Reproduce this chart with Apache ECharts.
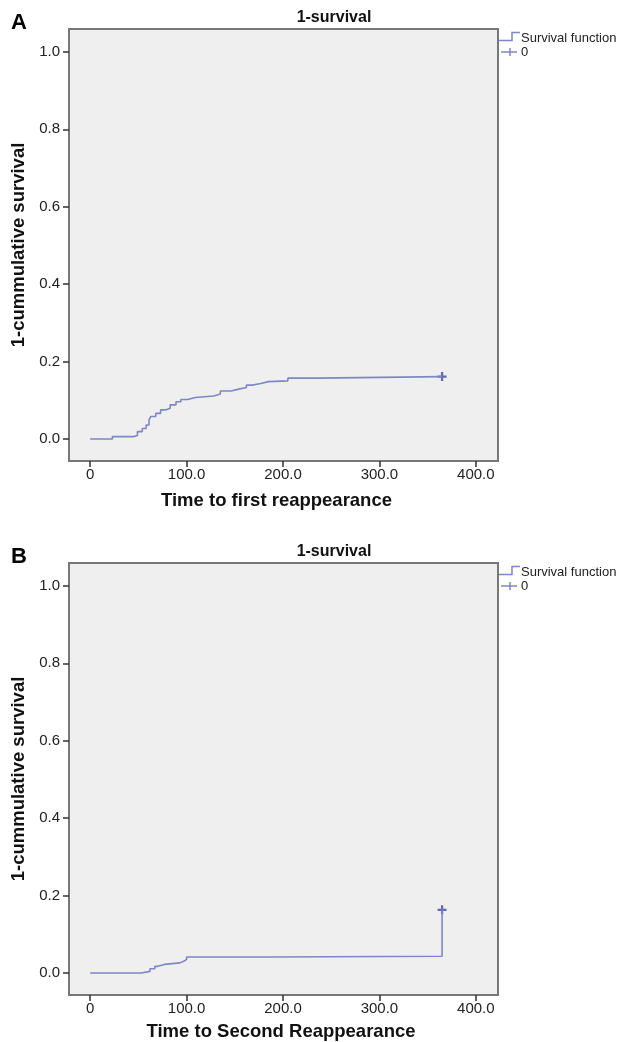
<!DOCTYPE html>
<html>
<head>
<meta charset="utf-8">
<script src="https://cdn.jsdelivr.net/npm/echarts@6/dist/echarts.min.js"></script>
<style>
html,body{margin:0;padding:0;background:#fff;}
#chart{width:619px;height:1042px;}
</style>
</head>
<body>
<div id="chart"></div>
<script>
// ---- data ----
const xTickValues = [0, 100, 200, 300, 400];
const yTickValues = [0, 0.2, 0.4, 0.6, 0.8, 1.0];

const panelLabels = ['A', 'B'];
const chartTitle = '1-survival';
const xTitles = ['Time to first reappearance', 'Time to Second Reappearance'];
const yTitle = '1-cummulative survival';
const legendLabels = ['Survival function', '0'];

const timeA = [0, 23, 45, 49, 54, 58, 61, 63, 68, 73, 78, 83, 89, 94, 101, 109, 128, 135, 146, 153, 162, 168, 177, 185, 205, 236, 365];
const valA  = [0, 0.006, 0.009, 0.019, 0.027, 0.036, 0.049, 0.058, 0.066, 0.075, 0.079, 0.088, 0.096, 0.102, 0.107, 0.111, 0.116, 0.124, 0.128, 0.133, 0.139, 0.143, 0.148, 0.150, 0.157, 0.161, 0.161];
const censorTimeA = [365];
const censorValA = [0.161];

const timeB = [0, 53, 62, 67, 70, 77, 93, 97, 100, 187, 365];
const valB  = [0, 0.004, 0.011, 0.017, 0.022, 0.026, 0.030, 0.035, 0.041, 0.043, 0.163];
const censorTimeB = [365];
const censorValB = [0.163];

// ---- styles ----
const FONT = '"Liberation Sans", Arial, sans-serif';
const LINE_COLOR = '#7f87c2';
const MARK_COLOR = '#3d4a9e';
const PLUS = 'path://M3,0H5V3H8V5H5V8H3V5H0V3H3Z';

const chart = echarts.init(document.getElementById('chart'), null, {renderer: 'canvas'});

const grids = [
  {left: 69, top: 29, width: 429, height: 432},
  {left: 69, top: 563, width: 429, height: 432}
];
const panelOffset = [0, 534];
const xNamePad = [14, 5];
const xNameGap = [30, 27];

function zip(a, b) { return a.map((v, i) => [v, b[i]]); }

const option = {
  animation: false,
  backgroundColor: '#ffffff',
  textStyle: {fontFamily: FONT},
  grid: grids.map(g => Object.assign({
    show: true, backgroundColor: '#efefef', borderColor: '#777777', borderWidth: 2,
    containLabel: false, outerBoundsMode: 'none'
  }, g)),
  xAxis: [0, 1].map(i => ({
    type: 'value', gridIndex: i, min: -22, max: 423,
    name: xTitles[i], nameLocation: 'middle', nameGap: xNameGap[i],
    nameTextStyle: {fontFamily: FONT, fontSize: 18.5, fontWeight: 'bold', color: '#111', padding: [0, xNamePad[i], 0, 0]},
    axisLine: {show: false, onZero: false},
    splitLine: {show: false},
    axisTick: {show: true, length: 6, customValues: xTickValues, lineStyle: {color: '#333', width: 1.5}},
    axisLabel: {customValues: xTickValues, margin: 6, fontFamily: FONT, fontSize: 15, color: '#222',
      formatter: v => (v === 0 ? '0' : v.toFixed(1))}
  })),
  yAxis: [0, 1].map(i => ({
    type: 'value', gridIndex: i, min: -0.057, max: 1.059,
    name: yTitle, nameLocation: 'middle', nameGap: 38, nameRotate: 90,
    nameTextStyle: {fontFamily: FONT, fontSize: 18.5, fontWeight: 'bold', color: '#111'},
    axisLine: {show: false, onZero: false},
    splitLine: {show: false},
    axisTick: {show: true, length: 6, customValues: yTickValues, lineStyle: {color: '#333', width: 1.5}},
    axisLabel: {customValues: yTickValues, margin: 9, fontFamily: FONT, fontSize: 15, color: '#222',
      formatter: v => v.toFixed(1)}
  })),
  series: [
    {type: 'line', name: legendLabels[0], xAxisIndex: 0, yAxisIndex: 0, step: 'end', showSymbol: false,
      lineStyle: {color: LINE_COLOR, width: 1.6}, data: zip(timeA, valA)},
    {type: 'scatter', name: legendLabels[1], xAxisIndex: 0, yAxisIndex: 0, symbol: PLUS, symbolSize: 9,
      itemStyle: {color: MARK_COLOR}, data: zip(censorTimeA, censorValA)},
    {type: 'line', name: legendLabels[0], xAxisIndex: 1, yAxisIndex: 1, step: 'end', showSymbol: false,
      lineStyle: {color: LINE_COLOR, width: 1.6}, data: zip(timeB, valB)},
    {type: 'scatter', name: legendLabels[1], xAxisIndex: 1, yAxisIndex: 1, symbol: PLUS, symbolSize: 9,
      itemStyle: {color: MARK_COLOR}, data: zip(censorTimeB, censorValB)}
  ],
  graphic: [].concat(...[0, 1].map(i => {
    const o = panelOffset[i];
    return [
      {type: 'text', left: 11, top: 12 + o, style: {text: panelLabels[i], font: 'bold 22px ' + FONT, fill: '#000'}},
      {type: 'text', x: 334, y: 18 + o, style: {text: chartTitle, font: 'bold 16px ' + FONT, fill: '#111', textAlign: 'center', textVerticalAlign: 'middle'}},
      {type: 'polyline', shape: {points: [[499, 40.5 + o], [512, 40.5 + o], [512, 32.5 + o], [520, 32.5 + o]]}, style: {stroke: LINE_COLOR, lineWidth: 1.5, fill: null}},
      {type: 'text', x: 521, y: 38 + o, style: {text: legendLabels[0], font: '13px ' + FONT, fill: '#222', textVerticalAlign: 'middle'}},
      {type: 'line', shape: {x1: 501, y1: 52 + o, x2: 517, y2: 52 + o}, style: {stroke: LINE_COLOR, lineWidth: 1.5}},
      {type: 'line', shape: {x1: 510, y1: 48 + o, x2: 510, y2: 56 + o}, style: {stroke: LINE_COLOR, lineWidth: 1.5}},
      {type: 'text', x: 521, y: 52 + o, style: {text: legendLabels[1], font: '13px ' + FONT, fill: '#222', textVerticalAlign: 'middle'}}
    ];
  }))
};
chart.setOption(option);
</script>
</body>
</html>
